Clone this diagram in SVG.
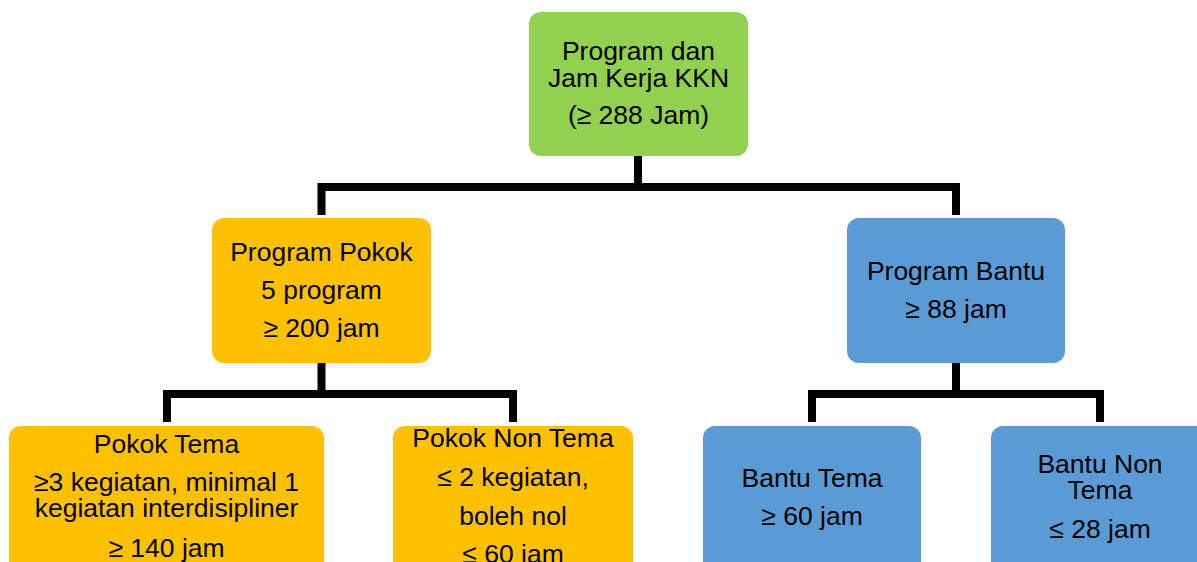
<svg xmlns="http://www.w3.org/2000/svg" width="1197" height="562" viewBox="0 0 1197 562">
<style>
text{font-family:"Liberation Sans",Arial,sans-serif;font-size:26.5px;fill:#000;text-anchor:middle}
.c{fill:none;stroke:#000;stroke-width:8;stroke-linejoin:miter;stroke-linecap:butt}
.g{fill:#92D050}
.o{fill:#FFC000}
.b{fill:#5B9BD5}
</style>
<rect width="1197" height="562" fill="#fff"/>
<g id="connectors">
<path class="c" d="M638,156 V187"/>
<path class="c" d="M321.5,215 V187 H956 V215"/>
<path class="c" d="M321.5,363 V394"/>
<path class="c" d="M167,422 V394 H513 V422"/>
<path class="c" d="M956,363 V394"/>
<path class="c" d="M812,422 V394 H1100 V422"/>
</g>
<g id="root">
<rect class="g" x="529" y="12" width="219" height="144" rx="12"/>
<text x="638.5" y="60">Program dan</text>
<text x="638.5" y="87">Jam Kerja KKN</text>
<text x="638.5" y="124">(≥ 288 Jam)</text>
</g>
<g id="program-pokok">
<rect class="o" x="212" y="218" width="219" height="145" rx="12"/>
<text x="321.5" y="261">Program Pokok</text>
<text x="321.5" y="299">5 program</text>
<text x="321.5" y="337">≥ 200 jam</text>
</g>
<g id="program-bantu">
<rect class="b" x="847" y="218" width="218" height="145" rx="12"/>
<text x="956" y="280">Program Bantu</text>
<text x="956" y="318">≥ 88 jam</text>
</g>
<g id="pokok-tema">
<rect class="o" x="9" y="426" width="315" height="150" rx="12"/>
<text x="166.5" y="453">Pokok Tema</text>
<text x="166.5" y="491">≥3 kegiatan, minimal 1</text>
<text x="166.5" y="517">kegiatan interdisipliner</text>
<text x="166.5" y="557">≥ 140 jam</text>
</g>
<g id="pokok-non-tema">
<rect class="o" x="393" y="426" width="240" height="150" rx="12"/>
<text x="513" y="447">Pokok Non Tema</text>
<text x="513" y="486">≤ 2 kegiatan,</text>
<text x="513" y="525">boleh nol</text>
<text x="513" y="563">≤ 60 jam</text>
</g>
<g id="bantu-tema">
<rect class="b" x="703" y="426" width="218" height="150" rx="12"/>
<text x="812" y="487">Bantu Tema</text>
<text x="812" y="525">≥ 60 jam</text>
</g>
<g id="bantu-non-tema">
<rect class="b" x="991" y="426" width="218" height="150" rx="12"/>
<text x="1100" y="473">Bantu Non</text>
<text x="1100" y="499">Tema</text>
<text x="1100" y="538">≤ 28 jam</text>
</g>
</svg>
